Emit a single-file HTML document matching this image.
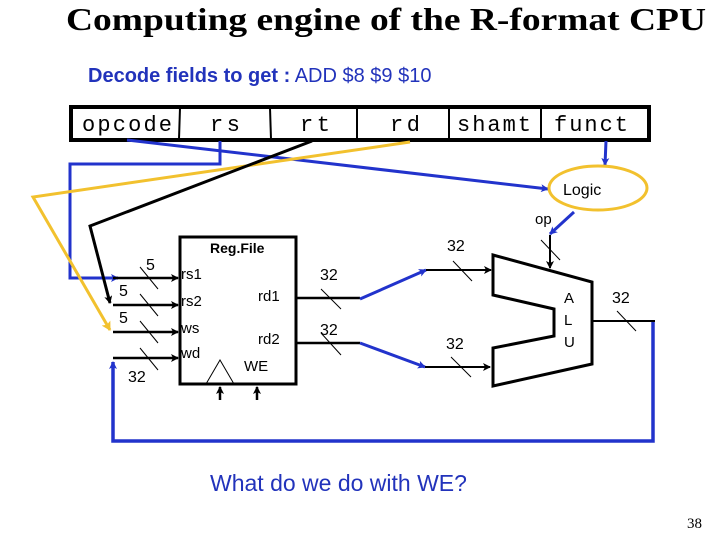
<!DOCTYPE html>
<html><head><meta charset="utf-8"><style>
html,body{margin:0;padding:0;background:#fff;}
svg{display:block;font-family:"Liberation Sans",sans-serif;}
.serif{font-family:"Liberation Serif",serif;}
.mono{font-family:"Liberation Mono",monospace;}
</style></head><body>
<svg width="720" height="540" viewBox="0 0 720 540" xmlns="http://www.w3.org/2000/svg">
<defs>
<marker id="ab" markerWidth="8" markerHeight="8" refX="7" refY="4" orient="auto" markerUnits="userSpaceOnUse"><path d="M0,0 L8,4 L0,8 L2,4 z" fill="#2233cc"/></marker>
<marker id="ak" markerWidth="8" markerHeight="8" refX="7" refY="4" orient="auto" markerUnits="userSpaceOnUse"><path d="M0,0 L8,4 L0,8 L2,4 z" fill="#000"/></marker>
<marker id="ay" markerWidth="10" markerHeight="10" refX="8" refY="5" orient="auto" markerUnits="userSpaceOnUse"><path d="M0,0 L9,5 L0,10 L2,5 z" fill="#f2c12e"/></marker>
</defs>
<text class="serif" x="66" y="30" font-weight="bold" font-size="32" textLength="640" lengthAdjust="spacingAndGlyphs">Computing engine of the R-format CPU</text>
<text x="88" y="82" font-size="20" fill="#2233bb"><tspan font-weight="bold">Decode fields to get :</tspan> ADD $8 $9 $10</text>
<rect x="71" y="107" width="578" height="33" fill="#fff" stroke="#000" stroke-width="4"/>
<g stroke="#000" stroke-width="2"><line x1="180" y1="108" x2="179" y2="139"/><line x1="270" y1="108" x2="271" y2="139"/><line x1="357" y1="108" x2="357" y2="139"/><line x1="449" y1="108" x2="449" y2="139"/><line x1="541" y1="108" x2="541" y2="139"/></g>
<g font-size="22"><text class="mono" x="82" y="131" textLength="90">opcode</text><text class="mono" x="210" y="131" textLength="30">rs</text><text class="mono" x="300" y="131" textLength="30">rt</text><text class="mono" x="390" y="131" textLength="30">rd</text><text class="mono" x="457" y="131" textLength="74">shamt</text><text class="mono" x="554" y="131" textLength="74">funct</text></g>
<polyline points="127,140 548,189" fill="none" stroke="#2233cc" stroke-width="3" marker-end="url(#ab)"/>
<polyline points="220,141 220,164 70,164 70,278 118,278" fill="none" stroke="#2233cc" stroke-width="3" marker-end="url(#ab)"/>
<polyline points="410,142 33,197 110,330" fill="none" stroke="#f2c12e" stroke-width="3" marker-end="url(#ay)"/>
<polyline points="312,141 90,226 110,303" fill="none" stroke="#000" stroke-width="3" marker-end="url(#ak)"/>
<line x1="606" y1="141" x2="605" y2="165" stroke="#2233cc" stroke-width="3" marker-end="url(#ab)"/>
<ellipse cx="598" cy="188" rx="49" ry="22" fill="#fff" stroke="#f2c12e" stroke-width="3"/>
<text x="563" y="195" font-size="16">Logic</text>
<text x="535" y="224" font-size="15">op</text>
<line x1="574" y1="212" x2="550" y2="234" stroke="#2233cc" stroke-width="3" marker-end="url(#ab)"/>
<line x1="550" y1="235" x2="550" y2="268" stroke="#000" stroke-width="2" marker-end="url(#ak)"/>
<g stroke="#000" stroke-width="2.5" fill="none">
<line x1="113" y1="278" x2="178" y2="278" marker-end="url(#ak)"/>
<line x1="113" y1="305" x2="178" y2="305" marker-end="url(#ak)"/>
<line x1="113" y1="332" x2="178" y2="332" marker-end="url(#ak)"/>
<line x1="113" y1="358" x2="178" y2="358" marker-end="url(#ak)"/>
</g>
<polyline points="653,321 653,441 113,441 113,362" fill="none" stroke="#2233cc" stroke-width="3.5" marker-end="url(#ab)"/>
<rect x="180" y="237" width="116" height="147" fill="#fff" stroke="#000" stroke-width="3"/>
<text x="210" y="253" font-size="14" font-weight="bold">Reg.File</text>
<g font-size="15"><text x="181" y="279">rs1</text><text x="181" y="306">rs2</text><text x="181" y="333">ws</text><text x="181" y="358">wd</text><text x="258" y="301">rd1</text><text x="258" y="344">rd2</text><text x="244" y="371">WE</text></g>
<polyline points="206,384 220,360 234,384" fill="none" stroke="#000" stroke-width="1"/>
<line x1="220" y1="400" x2="220" y2="387" stroke="#000" stroke-width="2.5" marker-end="url(#ak)"/>
<line x1="257" y1="400" x2="257" y2="387" stroke="#000" stroke-width="2.5" marker-end="url(#ak)"/>
<g stroke="#000" stroke-width="2.5"><line x1="296" y1="298" x2="360" y2="298"/><line x1="296" y1="343" x2="360" y2="343"/></g>
<line x1="360" y1="299" x2="426" y2="270" stroke="#2233cc" stroke-width="3" marker-end="url(#ab)"/>
<line x1="360" y1="343" x2="425" y2="367" stroke="#2233cc" stroke-width="3" marker-end="url(#ab)"/>
<line x1="426" y1="270" x2="491" y2="270" stroke="#000" stroke-width="2" marker-end="url(#ak)"/>
<line x1="425" y1="367" x2="490" y2="367" stroke="#000" stroke-width="2" marker-end="url(#ak)"/>
<polygon points="493,255 592,282 592,364 493,386 493,348 554,336 554,309 493,295" fill="#fff" stroke="#000" stroke-width="3"/>
<g font-size="15"><text x="564" y="303">A</text><text x="564" y="325">L</text><text x="564" y="347">U</text></g>
<line x1="592" y1="321" x2="655" y2="321" stroke="#000" stroke-width="2"/>
<g stroke="#000" stroke-width="1">
<line x1="140" y1="267" x2="158" y2="289"/><line x1="140" y1="294" x2="158" y2="316"/><line x1="140" y1="321" x2="158" y2="343"/><line x1="140" y1="348" x2="158" y2="370"/>
<line x1="321" y1="289" x2="341" y2="309"/><line x1="321" y1="333" x2="341" y2="355"/>
<line x1="453" y1="261" x2="472" y2="281"/><line x1="451" y1="357" x2="471" y2="377"/>
<line x1="541" y1="240" x2="560" y2="260"/><line x1="617" y1="311" x2="636" y2="331"/>
</g>
<g font-size="16"><text x="146" y="270">5</text><text x="119" y="296">5</text><text x="119" y="323">5</text><text x="128" y="382">32</text>
<text x="320" y="280">32</text><text x="320" y="335">32</text><text x="447" y="251">32</text><text x="446" y="349">32</text><text x="612" y="303">32</text></g>
<text x="210" y="491" font-size="23" fill="#2233bb">What do we do with WE?</text>
<text class="serif" x="687" y="528" font-size="15">38</text>
</svg>
</body></html>
